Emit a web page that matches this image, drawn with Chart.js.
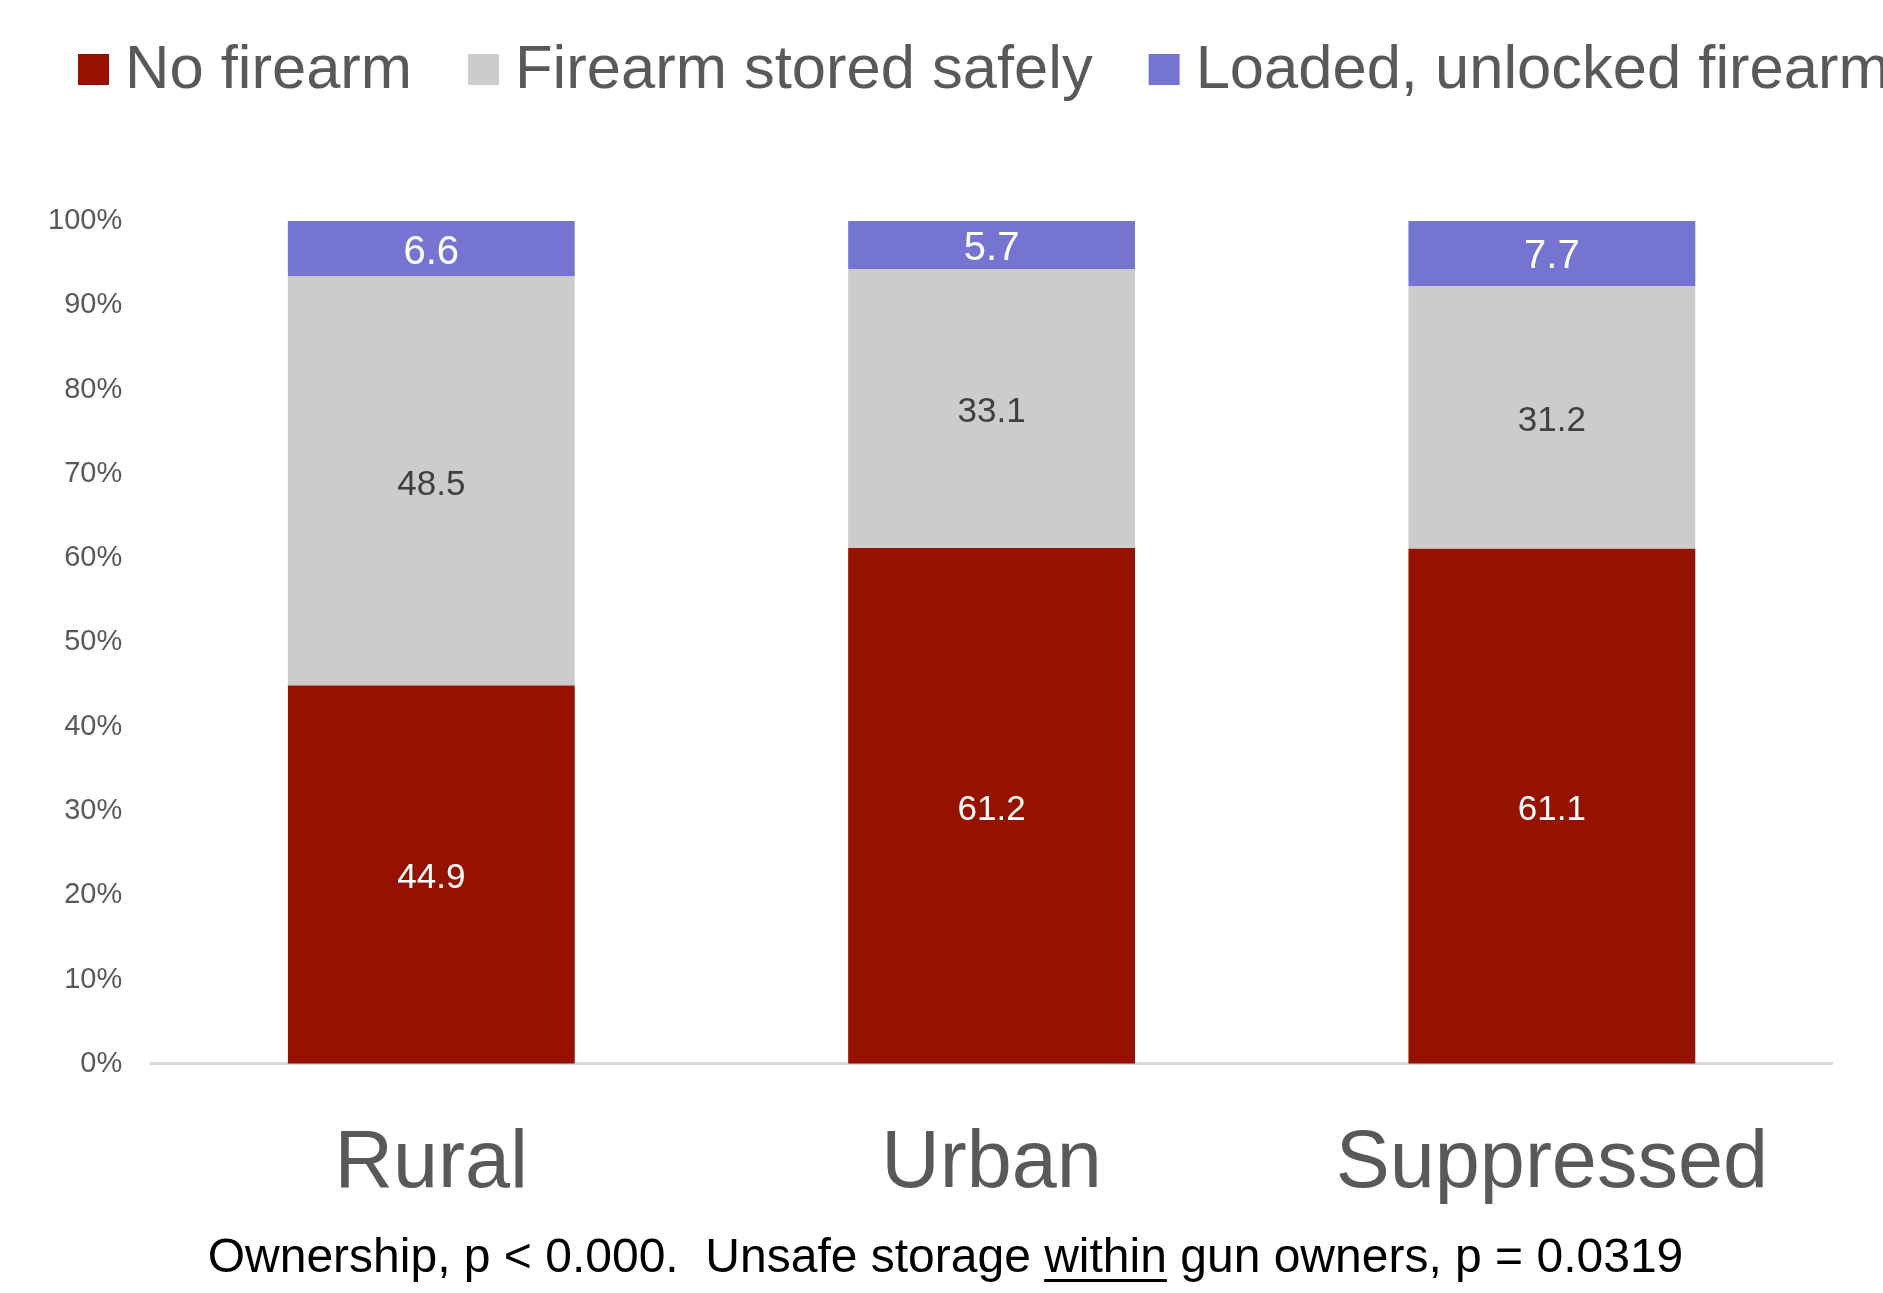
<!DOCTYPE html>
<html>
<head>
<meta charset="utf-8">
<script src="https://cdn.jsdelivr.net/npm/chart.js@4/dist/chart.umd.min.js"></script>
<style>
  html, body { margin: 0; padding: 0; background: #fff; overflow: hidden; }
  #wrap { position: relative; width: 1883px; height: 1293px; }
</style>
</head>
<body>
<div id="wrap"><canvas id="chart"></canvas></div>
<script>
const categories = ['Rural', 'Urban', 'Suppressed'];
const seriesNames = ['No firearm', 'Firearm stored safely', 'Loaded, unlocked firearm'];
const noFirearm = [44.9, 61.2, 61.1];
const storedSafely = [48.5, 33.1, 31.2];
const loadedUnlocked = [6.6, 5.7, 7.7];
const footnoteBefore = 'Ownership, p < 0.000.  Unsafe storage ';
const footnoteUnderlined = 'within';
const footnoteAfter = ' gun owners, p = 0.0319';

const FONT = '"Liberation Sans", Arial, sans-serif';
const TEXT_GREY = '#595959';

// value labels inside each bar segment
const segmentLabels = {
    id: 'segmentLabels',
    afterDatasetsDraw(chart) {
        const ctx = chart.ctx;
        ctx.save();
        ctx.textAlign = 'center';
        ctx.textBaseline = 'middle';
        chart.data.datasets.forEach((ds, i) => {
            const meta = chart.getDatasetMeta(i);
            ctx.fillStyle = ds.labelColor;
            ctx.font = ds.labelSize + 'px ' + FONT;
            meta.data.forEach((bar, j) => {
                const { x, y, base } = bar.getProps(['x', 'y', 'base'], true);
                ctx.fillText(ds.data[j].toFixed(1), x, (y + base) / 2 + 4);
            });
        });
        ctx.restore();
    }
};

// legend along the top (runs off the right edge like the original)
const topLegend = {
    id: 'topLegend',
    afterDraw(chart) {
        const ctx = chart.ctx;
        ctx.save();
        ctx.font = '61.5px ' + FONT;
        ctx.textBaseline = 'middle';
        let x = 78;
        const cy = 69;
        chart.data.datasets.forEach(ds => {
            ctx.fillStyle = ds.backgroundColor;
            ctx.fillRect(x, cy - 15, 31, 31);
            ctx.fillStyle = TEXT_GREY;
            ctx.fillText(ds.label, x + 47, cy + 2);
            x += 47 + ctx.measureText(ds.label).width + 56;
        });
        ctx.restore();
    }
};

// footnote with the underlined word
const footnote = {
    id: 'footnote',
    afterDraw(chart) {
        const ctx = chart.ctx;
        ctx.save();
        ctx.font = '48px ' + FONT;
        ctx.fillStyle = '#000';
        ctx.textBaseline = 'alphabetic';
        const full = footnoteBefore + footnoteUnderlined + footnoteAfter;
        const w = ctx.measureText(full).width;
        const x0 = chart.width / 2 + 4 - w / 2;
        const y = 1272;
        ctx.textAlign = 'left';
        ctx.fillText(full, x0, y);
        const ux = x0 + ctx.measureText(footnoteBefore).width;
        const uw = ctx.measureText(footnoteUnderlined).width;
        ctx.fillRect(ux, y + 7, uw, 3);
        ctx.restore();
    }
};

new Chart(document.getElementById('chart').getContext('2d'), {
    type: 'bar',
    data: {
        labels: categories,
        datasets: [
            { label: seriesNames[0], data: noFirearm, backgroundColor: '#961200', labelColor: '#ffffff', labelSize: 35 },
            { label: seriesNames[1], data: storedSafely, backgroundColor: '#cccccc', labelColor: '#404040', labelSize: 35 },
            { label: seriesNames[2], data: loadedUnlocked, backgroundColor: '#7575d1', labelColor: '#ffffff', labelSize: 40 },
        ],
    },
    options: {
        responsive: true,
        maintainAspectRatio: false,
        animation: false,
        layout: { padding: { top: 221, left: 19, right: 51, bottom: 28 } },
        datasets: { bar: { categoryPercentage: 1, barPercentage: 0.512, borderWidth: 0 } },
        plugins: {
            legend: { display: false },
            tooltip: { enabled: false },
        },
        scales: {
            x: {
                stacked: true,
                grid: { display: false, drawTicks: false },
                border: { display: true, color: '#d9d9d9', width: 3 },
                ticks: { padding: 52, color: TEXT_GREY, font: { family: FONT, size: 81 } },
            },
            y: {
                stacked: true,
                min: 0,
                max: 100,
                grid: { display: false, drawTicks: false },
                border: { display: false },
                ticks: {
                    stepSize: 10,
                    padding: 29,
                    color: TEXT_GREY,
                    font: { family: FONT, size: 29 },
                    callback: v => v + '%',
                },
            },
        },
    },
    plugins: [segmentLabels, topLegend, footnote],
});
</script>
</body>
</html>
